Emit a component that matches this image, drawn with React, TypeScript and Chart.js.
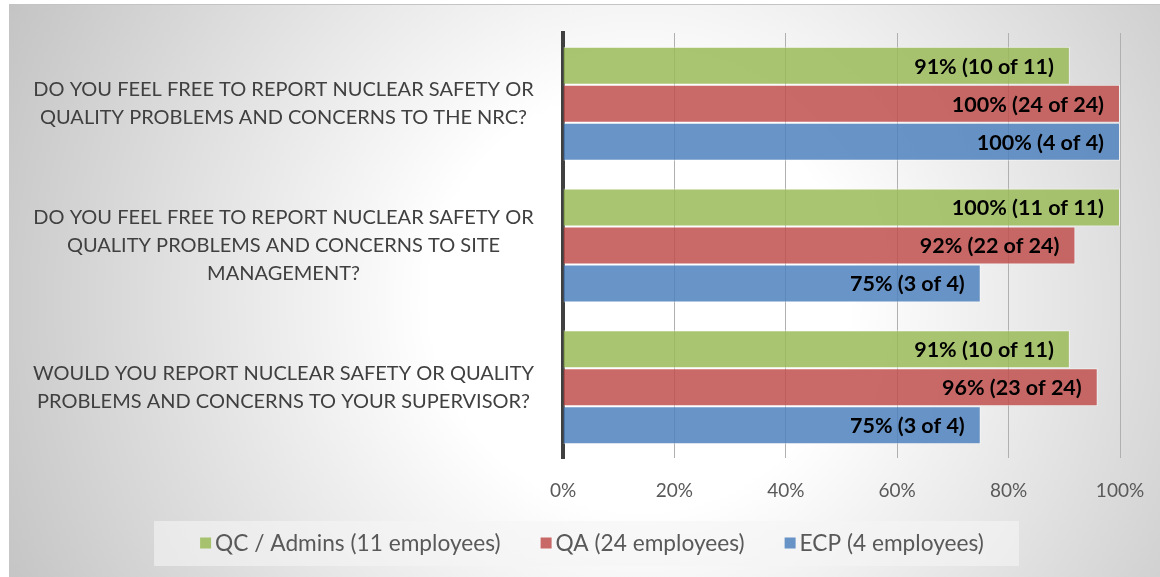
import { useEffect, useRef } from "react";
import { Chart, registerables } from "chart.js";

Chart.register(...registerables);

const categories: string[][] = [
  ["DO YOU FEEL FREE TO REPORT NUCLEAR SAFETY OR", "QUALITY PROBLEMS AND CONCERNS TO THE NRC?"],
  ["DO YOU FEEL FREE TO REPORT NUCLEAR SAFETY OR", "QUALITY PROBLEMS AND CONCERNS TO SITE", "MANAGEMENT?"],
  ["WOULD YOU REPORT NUCLEAR SAFETY OR QUALITY", "PROBLEMS AND CONCERNS TO YOUR SUPERVISOR?"],
];
const seriesNames = ["QC / Admins (11 employees)", "QA (24 employees)", "ECP (4 employees)"];
const groupSizes = [11, 24, 4];
const qcPercent = [91, 100, 91];
const qaPercent = [100, 92, 96];
const ecpPercent = [100, 75, 75];
const qcYes = [10, 11, 10];
const qaYes = [24, 22, 23];
const ecpYes = [4, 3, 3];
const xTickValues = [0, 20, 40, 60, 80, 100];

const FONT = "Lato, 'Open Sans', sans-serif";
const seriesColors = ["rgba(155,187,89,0.85)", "rgba(192,80,77,0.85)", "rgba(79,129,189,0.85)"];

const makeLabels = (pct: number[], yes: number[], size: number) =>
  pct.map((p, i) => `${p}% (${yes[i]} of ${size})`);

const valueLabelPlugin = {
  id: "valueLabels",
  afterDatasetsDraw(chart: any) {
    const ctx = chart.ctx;
    ctx.save();
    ctx.font = `bold 21.5px ${FONT}`;
    ctx.fillStyle = "#000000";
    ctx.textAlign = "right";
    ctx.textBaseline = "middle";
    chart.data.datasets.forEach((ds: any, di: number) => {
      const meta = chart.getDatasetMeta(di);
      meta.data.forEach((bar: any, i: number) => {
        ctx.fillText(ds.valueTexts[i], bar.x - 16, bar.y + 1);
      });
    });
    ctx.restore();
  },
};

const legendPlugin = {
  id: "boxLegend",
  afterDraw(chart: any) {
    const ctx = chart.ctx;
    ctx.save();
    ctx.font = `22.7px ${FONT}`;
    const sq = 11;
    const gapText = 4;
    const gapItem = 40;
    const items = chart.data.datasets.map((ds: any) => ({
      text: ds.label,
      color: ds.backgroundColor,
      w: ctx.measureText(ds.label).width,
    }));
    const total =
      items.reduce((s: number, it: any) => s + sq + gapText + it.w, 0) + gapItem * (items.length - 1);
    const cx = chart.width / 2 + 12;
    const cy = chart.height - 34;
    let x = cx - total / 2;
    ctx.fillStyle = "rgba(245,245,245,0.6)";
    ctx.fillRect(x - 46, cy - 22, total + 81, 45);
    ctx.textBaseline = "middle";
    ctx.textAlign = "left";
    items.forEach((it: any) => {
      ctx.fillStyle = it.color;
      ctx.fillRect(x, cy - sq / 2, sq, sq);
      ctx.fillStyle = "#595959";
      ctx.fillText(it.text, x + sq + gapText, cy + 1);
      x += sq + gapText + it.w + gapItem;
    });
    ctx.restore();
  },
};

export default function App() {
  const ref = useRef<HTMLCanvasElement | null>(null);

  useEffect(() => {
    if (!ref.current) return;
    const percents = [qcPercent, qaPercent, ecpPercent];
    const yeses = [qcYes, qaYes, ecpYes];
    const chart = new Chart(ref.current, {
      type: "bar",
      data: {
        labels: categories as any,
        datasets: seriesNames.map((name, i) => ({
          label: name,
          data: percents[i],
          valueTexts: makeLabels(percents[i], yeses[i], groupSizes[i]),
          backgroundColor: seriesColors[i],
          borderColor: "rgba(255,255,255,0.55)",
          borderWidth: 1,
          categoryPercentage: 0.805,
          barPercentage: 1,
        })) as any,
      },
      options: {
        indexAxis: "y",
        animation: false,
        responsive: false,
        devicePixelRatio: 1,
        layout: { padding: { left: 0, right: 40, top: 33, bottom: 61 } },
        plugins: {
          legend: { display: false },
          tooltip: { enabled: false },
        },
        scales: {
          x: {
            min: 0,
            max: 100,
            afterBuildTicks: (scale: any) => {
              scale.ticks = xTickValues.map((v) => ({ value: v }));
            },
            afterFit: (scale: any) => {
              scale.height = 58;
              scale.paddingLeft = 0;
              scale.paddingRight = 0;
            },
            grid: { color: "#b0b0b0", lineWidth: 1, drawTicks: false },
            border: { display: false },
            ticks: {
              callback: (v: any) => `${v}%`,
              font: { family: FONT, size: 19 },
              color: "#595959",
              padding: 21,
              maxRotation: 0,
            },
          },
          y: {
            afterFit: (scale: any) => {
              scale.width = 563;
              scale.paddingTop = 0;
              scale.paddingBottom = 0;
            },
            grid: { display: false, drawTicks: false },
            border: { display: true, color: "#404040", width: 4 },
            ticks: {
              crossAlign: "center",
              padding: 29,
              font: { family: FONT, size: 20, lineHeight: 1.4 },
              color: "#404040",
            },
          },
        },
      } as any,
      plugins: [valueLabelPlugin, legendPlugin],
    });
    return () => chart.destroy();
  }, []);

  return (
    <div style={{ position: "absolute", left: 0, top: 0, width: 1160, height: 577, overflow: "hidden", background: "#ffffff" }}>
      <div
        style={{
          position: "absolute",
          left: 9,
          top: 4,
          width: 1151,
          height: 573,
          borderTop: "1px solid #c4c4c4",
          background: "radial-gradient(circle 697px at 631px 296px, #ffffff 30%, #c4c4c4 100%)",
        }}
      />
      <canvas ref={ref} width={1160} height={577} style={{ position: "absolute", left: 0, top: 0, width: 1160, height: 577 }} />
    </div>
  );
}
